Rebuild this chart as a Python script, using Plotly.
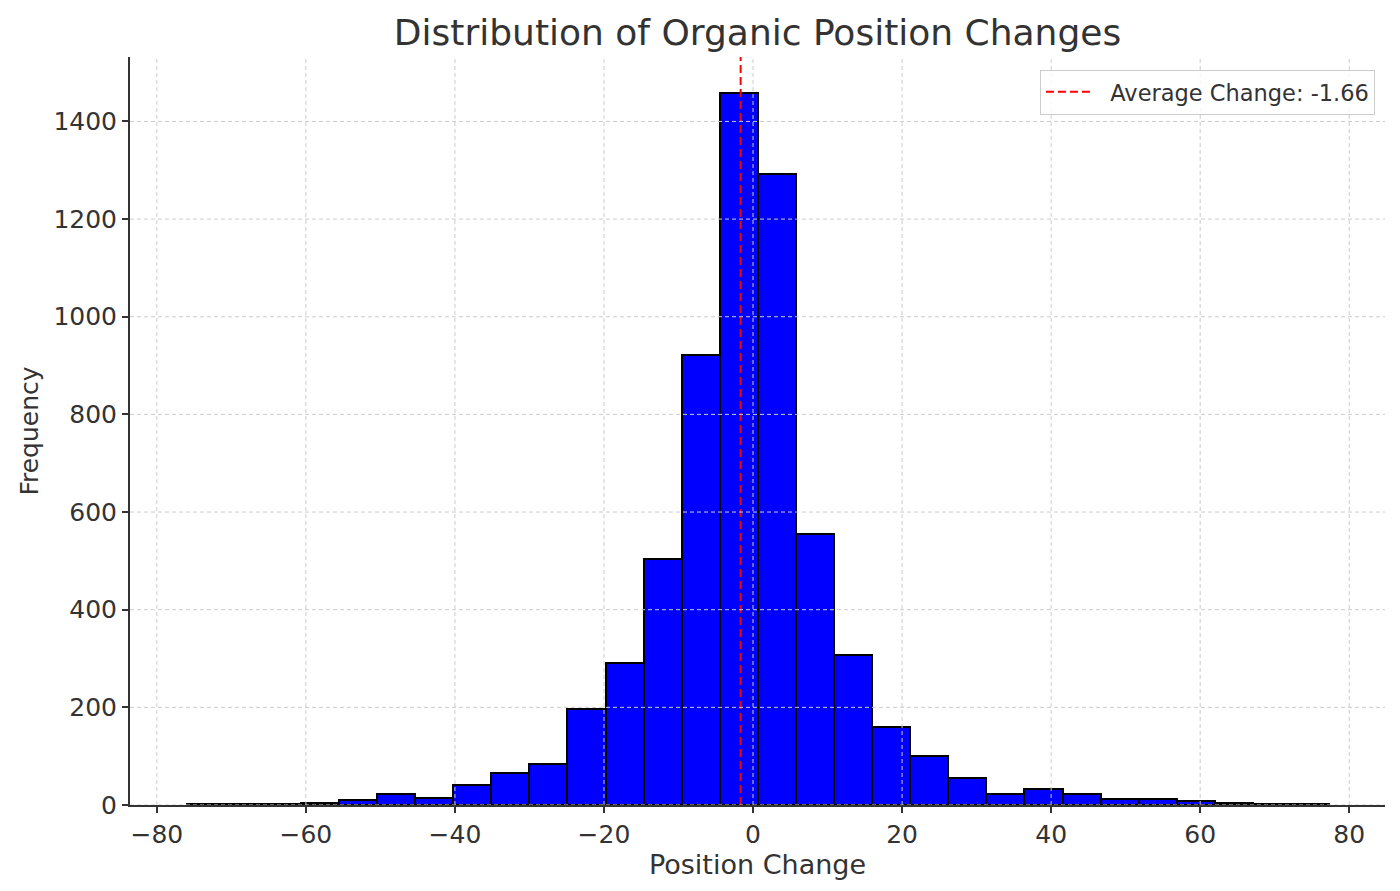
import numpy as np
import plotly.graph_objects as go

# histogram of organic position changes (30 bins)
bin_min = -76.0
bin_max = 77.3
n_bins = 30
counts = [3, 2, 3, 5, 10, 22, 14, 40, 66, 84,
          196, 290, 504, 922, 1459, 1292, 556, 307, 160, 100,
          56, 23, 32, 22, 12, 12, 8, 4, 2, 3]
average_change = -1.66

x_ticks = [-80, -60, -40, -20, 0, 20, 40, 60, 80]
x_tick_labels = ["\u221280", "\u221260", "\u221240", "\u221220", "0", "20", "40", "60", "80"]
y_ticks = [0, 200, 400, 600, 800, 1000, 1200, 1400]

edges = np.linspace(bin_min, bin_max, n_bins + 1)
centers = (edges[:-1] + edges[1:]) / 2
bin_width = edges[1] - edges[0]

y_top = max(counts) * 1.05
text_color = "#333333"
grid_style = dict(color="#cccccc", width=1, dash="4px,3px")

fig = go.Figure()

fig.add_trace(go.Bar(
    x=centers,
    y=counts,
    width=bin_width,
    marker=dict(color="#0000ff", line=dict(color="black", width=2)),
    showlegend=False,
    hoverinfo="x+y",
))

fig.add_trace(go.Scatter(
    x=[average_change, average_change],
    y=[0, y_top],
    mode="lines",
    line=dict(color="red", width=2, dash="8px,4px"),
    name="\u00a0\u00a0Average Change: %.2f" % average_change,
))

# grid drawn on top of the bars, like the original
shapes = []
for t in x_ticks:
    shapes.append(dict(type="line", xref="x", yref="paper", x0=t, x1=t, y0=0, y1=1,
                       layer="above", line=grid_style))
for t in y_ticks:
    shapes.append(dict(type="line", xref="paper", yref="y", x0=0, x1=1, y0=t, y1=t,
                       layer="above", line=grid_style))

fig.update_layout(
    width=1400,
    height=891,
    margin=dict(l=122, r=23, t=49, b=94),
    paper_bgcolor="white",
    plot_bgcolor="white",
    font=dict(family="DejaVu Sans", size=25, color=text_color),
    title=dict(
        text="Distribution of Organic Position Changes",
        x=0.5, xref="paper", xanchor="center",
        y=1 - 24 / 891, yref="container", yanchor="middle",
        font=dict(size=36, color=text_color),
    ),
    bargap=0,
    shapes=shapes,
    legend=dict(
        x=0.992, y=0.983, xanchor="right", yanchor="top",
        bgcolor="rgba(255,255,255,0.8)",
        bordercolor="#cccccc", borderwidth=1,
        itemwidth=45,
        font=dict(size=22.5, color=text_color),
    ),
    xaxis=dict(
        range=[-83.6, 84.8],
        tickvals=x_ticks,
        ticktext=x_tick_labels,
        showgrid=False,
        zeroline=False,
        showline=True, linecolor=text_color, linewidth=2,
        ticks="outside", ticklen=6, tickwidth=1.5, tickcolor=text_color,
        title=dict(text="Position Change", standoff=0, font=dict(size=27)),
    ),
    yaxis=dict(
        range=[0, y_top],
        tickvals=y_ticks,
        showgrid=False,
        zeroline=False,
        showline=True, linecolor=text_color, linewidth=2,
        ticks="outside", ticklen=6, tickwidth=1.5, tickcolor=text_color,
        title=dict(text="Frequency", standoff=8, font=dict(size=25)),
    ),
)

fig.write_html("out.html")
